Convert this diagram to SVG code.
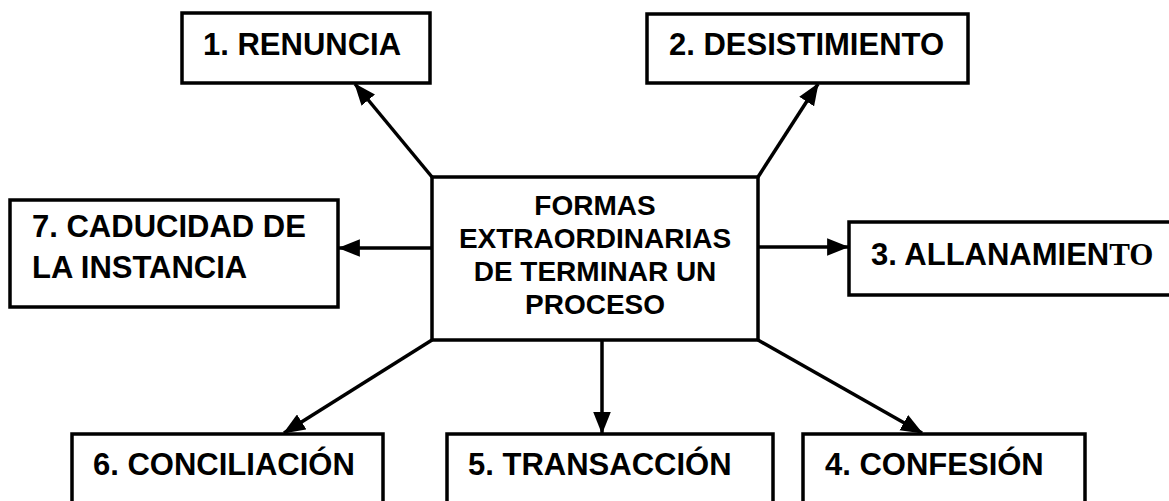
<svg xmlns="http://www.w3.org/2000/svg" width="1169" height="501" viewBox="0 0 1169 501">
<style>
.box{fill:#fff;stroke:#000;stroke-width:3.5}
.t{font-family:"Liberation Sans",Arial,sans-serif;font-weight:bold;font-size:31px;fill:#000}
.c{font-family:"Liberation Sans",Arial,sans-serif;font-weight:bold;font-size:28px;fill:#000;text-anchor:middle}
.ser{font-family:"Liberation Serif","Times New Roman",serif}
.con{stroke:#000;stroke-width:3.5;fill:none;marker-end:url(#ah)}
</style>
<defs>
<marker id="ah" markerUnits="userSpaceOnUse" markerWidth="22" markerHeight="18" refX="19" refY="8" orient="auto" viewBox="0 0 20 16">
<path d="M0,0 L20,8 L0,16 Z" fill="#000"/>
</marker>
</defs>
<rect width="1169" height="501" fill="#fff"/>
<g id="connectors">
<line class="con" x1="432" y1="177" x2="355" y2="84"/>
<line class="con" x1="758" y1="177" x2="818" y2="84"/>
<line class="con" x1="432" y1="248" x2="339" y2="248"/>
<line class="con" x1="758" y1="247" x2="848" y2="247"/>
<line class="con" x1="432" y1="340" x2="284" y2="433"/>
<line class="con" x1="602" y1="340" x2="602" y2="433"/>
<line class="con" x1="758" y1="340" x2="922" y2="433"/>
</g>
<g id="center">
<rect class="box" x="432" y="177" width="326" height="163"/>
<text class="c" x="595" y="215">FORMAS</text>
<text class="c" x="595" y="248">EXTRAORDINARIAS</text>
<text class="c" x="595" y="281">DE TERMINAR UN</text>
<text class="c" x="595" y="314">PROCESO</text>
</g>
<g id="n1">
<rect class="box" x="182" y="13" width="248" height="70"/>
<text class="t" x="203" y="55">1. RENUNCIA</text>
</g>
<g id="n2">
<rect class="box" x="647" y="14" width="321" height="69"/>
<text class="t" x="669" y="55">2. DESISTIMIENTO</text>
</g>
<g id="n3">
<rect class="box" x="849" y="222" width="322" height="73"/>
<text class="t" x="871" y="265">3. ALLANAMIEN<tspan class="ser">TO</tspan></text>
</g>
<g id="n4">
<rect class="box" x="803" y="434" width="282" height="80"/>
<text class="t" x="825" y="475">4. CONFESIÓN</text>
</g>
<g id="n5">
<rect class="box" x="447" y="434" width="326" height="80"/>
<text class="t" x="468" y="475">5. TRANSACCIÓN</text>
</g>
<g id="n6">
<rect class="box" x="72" y="434" width="311" height="80"/>
<text class="t" x="93" y="475">6. CONCILIACIÓN</text>
</g>
<g id="n7">
<rect class="box" x="10" y="200" width="328" height="107"/>
<text class="t" x="32" y="237">7. CADUCIDAD DE</text>
<text class="t" x="32" y="278">LA INSTANCIA</text>
</g>
</svg>
